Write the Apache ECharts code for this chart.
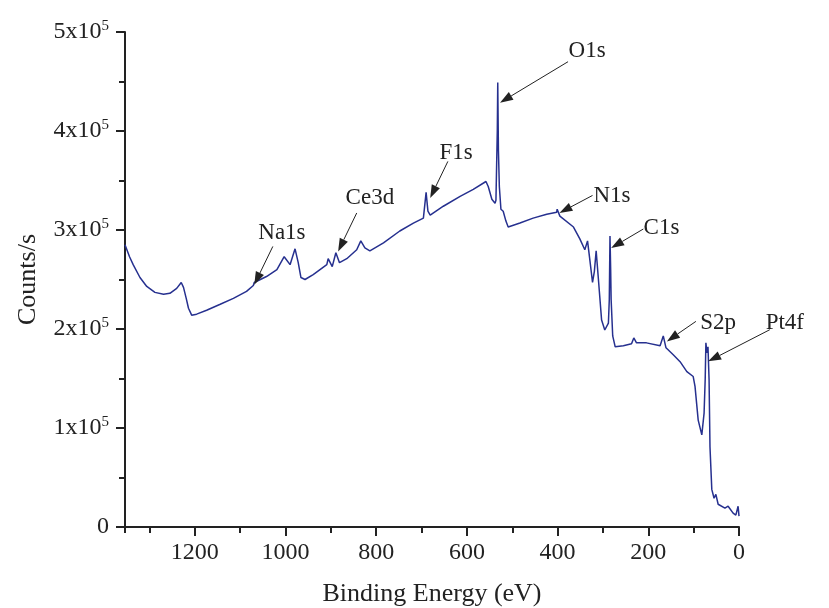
<!DOCTYPE html>
<html>
<head>
<meta charset="utf-8">
<script src="https://cdn.jsdelivr.net/npm/echarts@6/dist/echarts.min.js"></script>
<style>
  html, body { margin: 0; padding: 0; background: #ffffff; }
  #chart { width: 829px; height: 608px; }
</style>
</head>
<body>
<div id="chart"></div>
<script>
// XPS survey spectrum: binding energy (eV) and intensity (counts/s)
const energy = [
  1354, 1344, 1336, 1321, 1306, 1288, 1269, 1255, 1240, 1230, 1225, 1219, 1214, 1207,
  1196, 1174, 1144, 1115, 1086, 1071, 1069, 1066, 1042, 1019, 1003, 990, 979, 972,
  966, 957, 939, 909, 906, 897, 889, 881, 865, 843, 834, 825, 814, 784, 748, 718,
  696, 690, 686, 681, 652, 615, 586, 558, 553, 545, 538, 536, 533, 532, 530.5, 528.5,
  525, 520, 514, 509, 483, 454, 424, 402, 401, 395, 365, 351, 340, 334, 329, 323,
  319, 315, 310, 303, 296, 288, 286, 284.5, 283, 282, 278.5, 273, 255, 237, 232, 226,
  204, 174, 167, 161, 145, 130, 115, 101, 97, 90, 82, 77, 74.5, 73, 70.6, 68.4,
  66, 64, 60, 55, 51, 46, 31, 24, 13, 7, 2, 0
];
const counts = [
  285000, 273000, 265000, 252000, 243000, 237000, 235000, 236000, 241000, 247000, 242000, 231000, 221000, 214000,
  215000, 219000, 225000, 231000, 238000, 244000, 247000, 245000, 253000, 260000, 273000, 265000, 281000, 267000,
  252000, 250000, 255000, 265000, 271000, 263000, 277000, 267000, 271000, 280000, 289000, 282000, 279000, 287000, 299000, 307000,
  312000, 338000, 319000, 315000, 324000, 334000, 341000, 349000, 344000, 331000, 327000, 330000, 400000, 449000, 380000, 344000,
  321000, 319000, 309000, 303000, 307000, 312000, 316000, 318000, 321000, 314000, 303000, 291000, 280000, 289000, 270000, 247000,
  258000, 279000, 250000, 209000, 199000, 206000, 230000, 294000, 260000, 230000, 193000, 182000, 183000, 185000, 191000, 186000,
  186000, 183000, 193000, 181000, 174000, 167000, 157000, 152000, 142000, 108000, 93000, 115000, 150000, 186000, 176000, 182000,
  149000, 81000, 38000, 29000, 33000, 23000, 19000, 21000, 14000, 12000, 21000, 11000
];

// Peak assignments: label, arrow tip [eV, counts], arrow tail [eV, counts], label centre [eV, counts]
const peakNames = ['O1s', 'F1s', 'Ce3d', 'Na1s', 'N1s', 'C1s', 'S2p', 'Pt4f'];
const arrowTips = [[527, 428600], [681, 332300], [884, 278400], [1069, 244700], [396, 317200], [282, 281800], [159, 187500], [68, 167300]];
const arrowTails = [[377, 470000], [642, 369300], [843, 317200], [1028, 283400], [323, 334900], [211, 301000], [95, 207700], [-68, 199300]];
const labelSpots = [[335, 481000], [624, 378100], [814, 332600], [1008, 297300], [280, 334600], [171, 302300], [46, 206400], [-101, 206400]];

const xTicks = [0, 200, 400, 600, 800, 1000, 1200];
const yTicks = [0, 100000, 200000, 300000, 400000, 500000];

const FONT = 'Liberation Serif';
const INK = '#222222';

const chart = echarts.init(document.getElementById('chart'), null, { renderer: 'canvas' });

const series = [{
  type: 'line',
  xAxisIndex: 0,
  data: energy.map((e, i) => [e, counts[i]]),
  showSymbol: false,
  symbol: 'none',
  lineStyle: { color: '#26308f', width: 1.5 },
  animation: false,
  z: 3
}];

chart.setOption({
  backgroundColor: '#ffffff',
  animation: false,
  grid: { left: 125, right: 90, top: 32, bottom: 81, containLabel: false, outerBoundsMode: 'none' },
  xAxis: [
    {
      type: 'value', min: 0, max: 1354, inverse: true, interval: 200,
      name: 'Binding Energy (eV)', nameLocation: 'middle', nameGap: 54,
      nameTextStyle: { fontFamily: FONT, fontSize: 26, color: INK },
      axisLine: { show: true, onZero: false, lineStyle: { color: INK, width: 2 } },
      axisTick: { show: true, inside: false, length: 9, lineStyle: { color: INK, width: 2 } },
      axisLabel: {
        show: true, margin: 14, showMaxLabel: false,
        fontFamily: FONT, fontSize: 24, color: INK,
        formatter: v => (xTicks.indexOf(v) >= 0 ? String(v) : '')
      },
      splitLine: { show: false }
    },
    {
      type: 'value', min: 0, max: 1354, inverse: true, interval: 100,
      position: 'bottom',
      axisLine: { show: false, onZero: false },
      axisTick: { show: true, inside: false, length: 6, lineStyle: { color: INK, width: 2 } },
      axisLabel: { show: false },
      splitLine: { show: false }
    }
  ],
  yAxis: {
    type: 'value', min: 0, max: 500000, interval: 100000,
    position: 'left',
    name: 'Counts/s', nameLocation: 'middle', nameGap: 84,
    nameTextStyle: { fontFamily: FONT, fontSize: 26, color: INK },
    axisLine: { show: true, onZero: false, lineStyle: { color: INK, width: 2 } },
    axisTick: { show: true, inside: false, length: 9, lineStyle: { color: INK, width: 2 } },
    minorTick: { show: true, splitNumber: 2, length: 6, lineStyle: { color: INK, width: 2 } },
    axisLabel: {
      margin: 16, color: INK, fontFamily: FONT, fontSize: 24,
      formatter: v => (yTicks.indexOf(v) < 0 ? '' : v === 0 ? '{m|0}' : '{m|' + (v / 100000) + 'x10}{e|5}'),
      rich: {
        m: { fontFamily: FONT, fontSize: 24, color: INK },
        e: { fontFamily: FONT, fontSize: 15, color: INK, padding: [0, 0, 12, 0] }
      }
    },
    splitLine: { show: false }
  },
  series: series
});

// Arrow annotations placed in data space, drawn as graphics
function drawAnnotations() {
  const g = [];
  peakNames.forEach((name, i) => {
    const tip = chart.convertToPixel({ xAxisIndex: 0, yAxisIndex: 0 }, arrowTips[i]);
    const tail = chart.convertToPixel({ xAxisIndex: 0, yAxisIndex: 0 }, arrowTails[i]);
    const txt = chart.convertToPixel({ xAxisIndex: 0, yAxisIndex: 0 }, labelSpots[i]);
    const dx = tip[0] - tail[0], dy = tip[1] - tail[1];
    const len = Math.sqrt(dx * dx + dy * dy);
    const ux = dx / len, uy = dy / len;
    const headLen = 13, headHalf = 4.5;
    const bx = tip[0] - ux * headLen, by = tip[1] - uy * headLen;
    g.push({
      type: 'line', silent: true, z: 10,
      shape: { x1: tail[0], y1: tail[1], x2: bx, y2: by },
      style: { stroke: INK, lineWidth: 1 }
    });
    g.push({
      type: 'polygon', silent: true, z: 10,
      shape: { points: [[tip[0], tip[1]], [bx - uy * headHalf, by + ux * headHalf], [bx + uy * headHalf, by - ux * headHalf]] },
      style: { fill: INK }
    });
    g.push({
      type: 'text', silent: true, z: 10,
      x: txt[0], y: txt[1],
      style: { text: name, fontFamily: FONT, fontSize: 23, fill: INK, align: 'center', verticalAlign: 'middle' }
    });
  });
  chart.setOption({ graphic: g });
}
drawAnnotations();
</script>
</body>
</html>
